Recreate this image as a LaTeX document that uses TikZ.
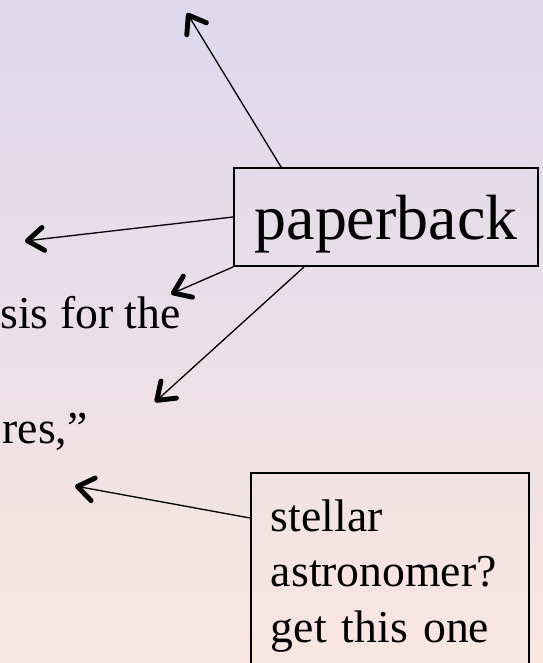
\documentclass[tikz,border=0pt]{standalone}
\usepackage{fontspec}
\setmainfont{Liberation Serif}
\usetikzlibrary{arrows.meta,calc}
\definecolor{bgtop}{RGB}{221,216,238}
\definecolor{bgbottom}{RGB}{249,230,224}
\begin{document}
\begin{tikzpicture}[x=0.02cm,y=-0.02cm,
  pointer/.style={line width=0.75pt,-{Straight Barb[length=0.32cm,width=0.46cm,line width=2.8pt 0 1,round]}},
  callout/.style={draw,line width=1.1pt,rectangle}]
\shade[top color=bgtop,bottom color=bgbottom] (0,0) rectangle (543,663);
\useasboundingbox (0,0) rectangle (543,663);
\clip (0,0) rectangle (543,663);
\node[callout,minimum width=6.08cm,minimum height=1.96cm,text height=26pt,text depth=0pt,inner sep=0pt,font=\fontsize{36.4}{40}\selectfont] (pb) at (386,217) {paperback};
\node[callout,anchor=north west,inner xsep=0.4cm,inner ysep=15pt,text width=4.76cm,align=left,font=\fontsize{26}{31.7}\selectfont] (st) at (250,472) {stellar\\astronomer?\\get this one};
\node[anchor=base east,inner sep=0pt,font=\fontsize{26}{31.7}\selectfont] (sis) at (181,328) {sis for the};
\node[anchor=base east,inner sep=0pt,font=\fontsize{26}{31.7}\selectfont] (res) at (88,443) {res,”};
\coordinate (up) at (187,13);
\coordinate (left) at (25,241);
\coordinate (sisend) at (171,294);
\coordinate (resend) at (155,402);
\coordinate (starend) at (75,486);
\draw[pointer] ($(pb.north west)+(48,0)$) -- (up);
\draw[pointer] (pb.west) -- (left);
\draw[pointer] (pb.south west) -- (sisend);
\draw[pointer] ($(pb.south west)+(71,0)$) -- (resend);
\draw[pointer] ($(st.north west)+(0,46)$) -- (starend);
\end{tikzpicture}
\end{document}
